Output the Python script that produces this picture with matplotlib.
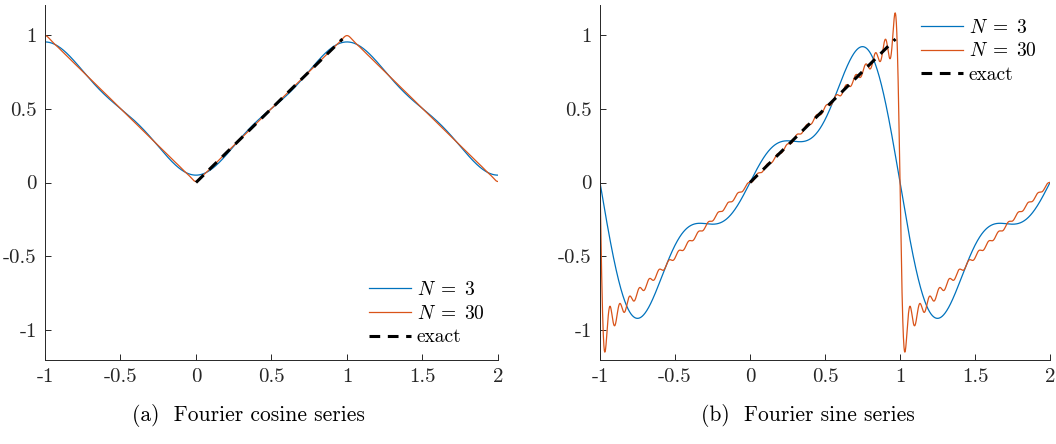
import matplotlib
matplotlib.use("Agg")
import matplotlib.pyplot as plt
import numpy as np

plt.rcParams["font.family"] = ["cmr10", "DejaVu Serif"]
plt.rcParams["mathtext.fontset"] = "cm"
plt.rcParams["axes.unicode_minus"] = False
plt.rcParams["axes.formatter.use_mathtext"] = True

# series settings and exact function (f(x) = x on [0, 1])
n_terms = [3, 30]
exact_x = [0.0, 0.97]
exact_y = [0.0, 0.97]
x_range = [-1, 2]
xticks = [-1, -0.5, 0, 0.5, 1, 1.5, 2]
yticks = [-1, -0.5, 0, 0.5, 1]
captions = ["(a)  Fourier cosine series", "(b)  Fourier sine series"]

blue = "#0072BD"
orange = "#D95319"


def cosine_sum(x, N):
    s = np.full_like(x, 0.5)
    for n in range(1, N + 1):
        a = 2 * ((-1) ** n - 1) / (n * np.pi) ** 2
        s += a * np.cos(n * np.pi * x)
    return s


def sine_sum(x, N):
    s = np.zeros_like(x)
    for n in range(1, N + 1):
        b = 2 * (-1) ** (n + 1) / (n * np.pi)
        s += b * np.sin(n * np.pi * x)
    return s


x = np.linspace(x_range[0], x_range[1], 3000)

fig = plt.figure(figsize=(10.56, 4.44), dpi=100)
ax1 = fig.add_axes([45 / 1056, 1 - 360 / 444, 453 / 1056, 355 / 444])
ax2 = fig.add_axes([600 / 1056, 1 - 360 / 444, 450 / 1056, 355 / 444])

for ax, fn, cap, cx, loc in [
    (ax1, cosine_sum, captions[0], 248, "lower right"),
    (ax2, sine_sum, captions[1], 808, "upper right"),
]:
    ax.plot(x, fn(x, n_terms[0]), color=blue, lw=0.9, label=r"$N\;=\;%d$" % n_terms[0])
    ax.plot(x, fn(x, n_terms[1]), color=orange, lw=0.9, label=r"$N\;=\;%d$" % n_terms[1])
    ax.plot(exact_x, exact_y, color="black", lw=2.2, ls=(0, (3.5, 2.5)), label="exact")
    ax.set_xlim(x_range)
    ax.set_ylim(-1.2, 1.2)
    ax.set_xticks(xticks)
    ax.set_yticks(yticks)
    ax.set_xticklabels(["%g" % t for t in xticks])
    ax.set_yticklabels(["%g" % t for t in yticks])
    ax.tick_params(direction="in", length=4, width=0.7, labelsize=15, colors="#262626")
    ax.tick_params(axis="x", pad=6)
    ax.tick_params(axis="y", pad=6)
    for sp in ["top", "right"]:
        ax.spines[sp].set_visible(False)
    for sp in ["left", "bottom"]:
        ax.spines[sp].set_linewidth(0.7)
        ax.spines[sp].set_color("#262626")
    ax.legend(loc=loc, frameon=False, fontsize=14, handlelength=2.15,
              handletextpad=0.3, labelspacing=0.3, borderaxespad=0.3)
    fig.text(cx / 1056, 1 - 404 / 444, cap, ha="center", va="top", fontsize=15.5)

fig.savefig("out.png", dpi=100)
